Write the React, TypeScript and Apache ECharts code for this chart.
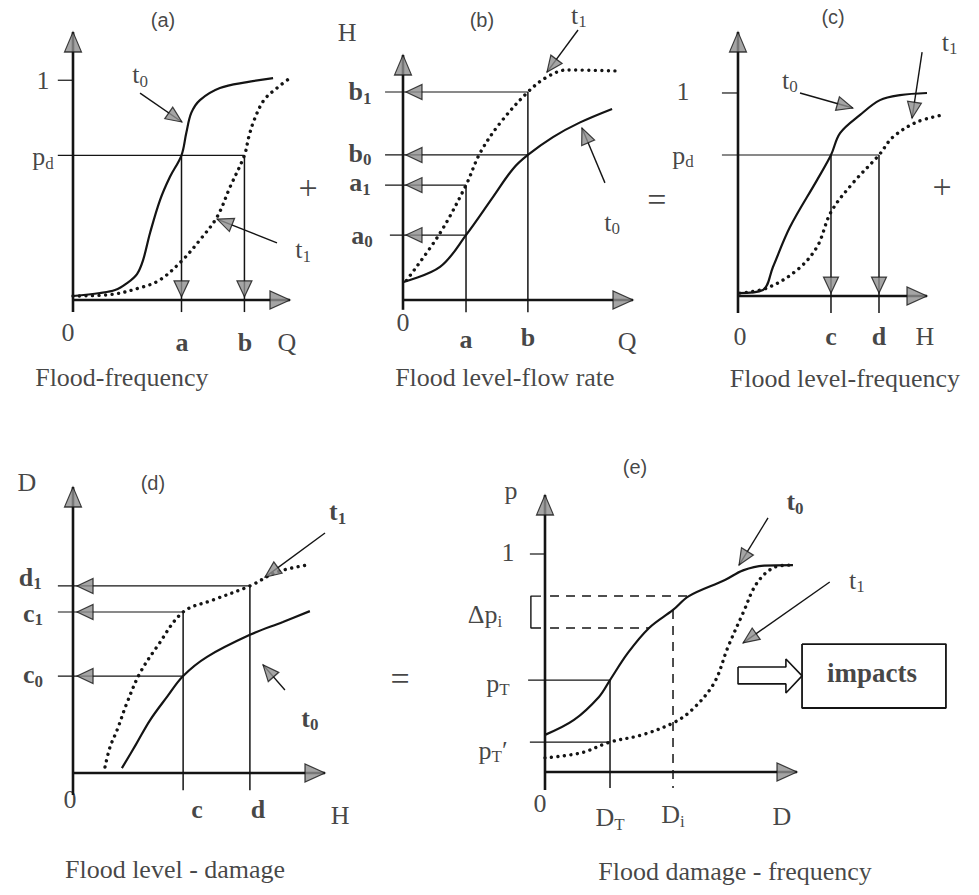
import React, { useEffect, useRef } from 'react';
import * as echarts from 'echarts';

// ---------------- DATA (panel units: origin = 0, axis arrow tip = 100) ----------------
// (a) Flood-frequency : p against Q
const aT0 = [[0,1.5],[12.4,2.6],[19.4,3.7],[24.9,6.3],[29.5,9.7],[32.3,14.9],[35.5,25],[40.1,37.3],[44.7,46],[50,54],[52.2,62.3],[54.5,69.8],[58.5,74.6],[67.7,79.1],[80.2,81.3],[92.2,82.8]];
const aT1 = [[0,1.5],[17,2],[32.3,4.9],[40.1,7.5],[50,14.5],[58.5,22.4],[66.4,31],[72.4,42.2],[79,54],[81,60.8],[83.5,67.2],[88,74.6],[94,79.1],[100,82.8]];
const aOne = 82, aPd = 54, aQa = 50, aQb = 79;

// (b) Flood level-flow rate : H against Q
const bT0 = [[0,7.3],[16.1,13.5],[27.4,26.5],[39.1,42],[47.8,53.5],[54.3,59.2],[65.2,66.5],[77,72.5],[90.9,78]];
const bT1 = [[1.5,8],[16.1,27.3],[27.4,46.9],[33.5,60],[42.2,72.2],[54.3,84.9],[62.6,91],[71.3,93.9],[93,93.5]];
const bB1 = 84.9, bB0 = 59.2, bA1 = 46.9, bA0 = 26.5, bQa = 27.4, bQb = 54.3;

// (c) Flood level-frequency : p against H
const cT0 = [[0,1.1],[13.2,2.3],[18.5,11],[27.5,26.1],[41.8,43.9],[49.2,53.4],[54,61.7],[64.6,68.6],[75.1,74.2],[85.7,76.1],[100,76.9]];
const cT1 = [[1,1.1],[15.3,3],[31.2,9.8],[41.8,18.6],[49.2,31.8],[60.8,42.8],[74.6,53.4],[82,60.2],[94.7,65.9],[108.5,68.6]];
const cOne = 76.9, cPd = 53.4, cHc = 49.2, cHd = 74.6;

// (d) Flood level - damage : D against H
const dT0 = [[19.4,1.7],[25,10],[30.6,18.5],[37.3,26.6],[43.7,33.9],[53.2,40.6],[70.2,48.3],[83.3,52.8],[94,56.6]];
const dT1 = [[12.7,2.1],[14.7,9.1],[17.5,15],[21.4,24.5],[26.6,35],[33.3,44.1],[43.7,56.3],[55.6,60.5],[70.2,65.4],[81,70.3],[92.9,72.7]];
const dD1 = 65.4, dC1 = 56.3, dC0 = 33.9, dHc = 43.7, dHd = 70.2;

// (e) Flood damage - frequency : p against D
const eT0 = [[0,13.4],[11.5,18.8],[21.4,27.1],[25.8,33.2],[32.9,43],[41.3,52],[50.8,58.5],[57.1,63.5],[71.4,69.3],[78.6,72.8],[86.9,74.5],[98.4,74.7]];
const eT1 = [[0,5.1],[14.3,6.9],[25.8,10.8],[38.5,13.4],[50.8,17.7],[58.3,22.4],[67.1,32.1],[72.6,45.1],[78.6,57.4],[84.1,68.2],[91.3,74],[97.6,74.7]];
const eOne = 78.7, eDpTop = 63.5, eDpBot = 52, ePT = 33.2, ePTp = 10.8, eDT = 25.8, eDi = 50.8;

// pointer arrows (start -> tip) for the t0 / t1 call-outs
const aPointers = [[[30.9,77.2],[50.2,66.4]], [[94,21.3],[66.4,30.2]]];
const bPointers = [[[76.1,110.2],[62.6,93]], [[87.8,47.8],[77.8,70.2]]];
const cPointers = [[[32.8,76.9],[60.8,71.2]], [[97.4,92.4],[92.1,67.4]]];
const dPointers = [[[100,83.9],[76.2,68.5]], [[84.1,29],[75.4,37.8]]];
const ePointers = [[[88.5,91.7],[77,74.7]], [[113,68.6],[78.6,46.6]]];

// ---------------- LAYOUT ----------------
type P = { ox: number; oy: number; tx: number; ty: number };
const LAYOUT: P[] = [
  { ox: 73, oy: 300, tx: 290, ty: 32 },
  { ox: 403, oy: 300, tx: 633, ty: 55 },
  { ox: 738, oy: 296, tx: 927, ty: 32 },
  { ox: 73, oy: 773, tx: 325, ty: 487 },
  { ox: 545, oy: 772, tx: 797, ty: 495 },
];
const A = 0, B = 1, C = 2, D = 3, E = 4;
const XR = [-60, 160];
const YR = [-50, 130];
const INK = '#141414';
const SERIF = '"Liberation Serif", "Times New Roman", serif';
const SANS = '"Liberation Sans", Arial, sans-serif';

const sc = (p: P) => ({ sx: (p.tx - p.ox) / 100, sy: (p.oy - p.ty) / 100 });

const m = (t: string) => `{m|${t}}`;
const ms = (t: string, s: string) => `{m|${t}}{s|${s}}`;
const mb = (t: string) => `{mb|${t}}`;
const mbs = (t: string, s: string) => `{mb|${t}}{sb|${s}}`;
const tag = (t: string) => `{tag|${t}}`;
const ttl = (t: string) => `{tt|${t}}`;
const big = (t: string) => `{big|${t}}`;

// label anchors in panel units
const LABELS: [number, number, number, string][] = [
  [A, 41.5, 104.5, tag('(a)')],
  [A, -13.8, 82, m('1')],
  [A, -13.8, 53.4, ms('p', 'd')],
  [A, -2.3, -12.3, m('0')],
  [A, 50.2, -15.7, mb('a')],
  [A, 79.3, -15.7, mb('b')],
  [A, 98.6, -16, m('Q')],
  [A, 30.9, 84, ms('t', '0')],
  [A, 106, 18.7, ms('t', '1')],
  [A, 108.3, 41.8, big('+')],
  [A, 22.5, -29.1, ttl('Flood-frequency')],

  [B, -24.3, 109, m('H')],
  [B, 34.3, 114.3, tag('(b)')],
  [B, -18.7, 84.9, mbs('b', '1')],
  [B, -18.7, 60, mbs('b', '0')],
  [B, -18.7, 47.8, mbs('a', '1')],
  [B, -17.8, 26.5, mbs('a', '0')],
  [B, 0, -9, m('0')],
  [B, 27.4, -16.3, mb('a')],
  [B, 54.3, -15.5, mb('b')],
  [B, 97.4, -17.1, m('Q')],
  [B, 76.5, 116.3, ms('t', '1')],
  [B, 90.9, 31.8, ms('t', '0')],
  [B, 44.3, -31.8, ttl('Flood level-flow rate')],

  [C, 50.3, 105.7, tag('(c)')],
  [C, -29.1, 77.3, m('1')],
  [C, -29.1, 53.4, ms('p', 'd')],
  [C, -42.9, 36.4, big('=')],
  [C, 108, 41.3, big('+')],
  [C, 1, -15.5, m('0')],
  [C, 49.2, -15.5, mb('c')],
  [C, 74.6, -15.5, mb('d')],
  [C, 98.9, -15.5, m('H')],
  [C, 27.5, 81.8, ms('t', '0')],
  [C, 112, 96.2, ms('t', '1')],
  [C, 56.6, -31.1, ttl('Flood level-frequency')],

  [D, -18.3, 101.4, m('D')],
  [D, 31.7, 101.4, tag('(d)')],
  [D, -17, 68.5, mbs('d', '1')],
  [D, -15.9, 55.9, mbs('c', '1')],
  [D, -15.9, 34.3, mbs('c', '0')],
  [D, -1.2, -9.4, m('0')],
  [D, 49.2, -12.9, mb('c')],
  [D, 73.4, -12.9, mb('d')],
  [D, 106, -14.7, m('H')],
  [D, 105, 91.3, mbs('t', '1')],
  [D, 94, 19.2, mbs('t', '0')],
  [D, 129.8, 33.2, big('=')],
  [D, 40.5, -33.9, ttl('Flood level - damage')],

  [E, -13.5, 101.8, m('p')],
  [E, 35.7, 110, tag('(e)')],
  [E, -14.7, 79.4, m('1')],
  [E, -23.8, 56.7, ms('Δp', 'i')],
  [E, -18.7, 32.1, ms('p', 'T')],
  [E, -20.6, 7.9, `{m|p}{s|T}{m|′}`],
  [E, -2, -11.2, m('0')],
  [E, 25.8, -16.6, ms('D', 'T')],
  [E, 50.8, -15.5, ms('D', 'i')],
  [E, 94, -16.2, m('D')],
  [E, 99.2, 97.5, mbs('t', '0')],
  [E, 123.8, 69.3, ms('t', '1')],
  [E, 129.8, 35.7, `{imp|impacts}`],
  [E, 75.4, -36.1, ttl('Flood damage - frequency')],
];

const RICH: any = {
  m: { fontFamily: SERIF, fontSize: 26, color: INK, lineHeight: 30 },
  s: { fontFamily: SERIF, fontSize: 17, color: INK, lineHeight: 14, verticalAlign: 'bottom' },
  mb: { fontFamily: SERIF, fontSize: 26, color: INK, lineHeight: 30, fontWeight: 'bold' },
  sb: { fontFamily: SERIF, fontSize: 17, color: INK, lineHeight: 14, verticalAlign: 'bottom', fontWeight: 'bold' },
  tag: { fontFamily: SANS, fontSize: 20, color: INK, lineHeight: 24 },
  tt: { fontFamily: SERIF, fontSize: 26, color: INK, lineHeight: 30 },
  big: { fontFamily: SERIF, fontSize: 34, color: INK, lineHeight: 36 },
  imp: { fontFamily: SERIF, fontSize: 27, color: INK, lineHeight: 30, fontWeight: 'bold' },
};

function buildOption() {
  const grid: any[] = [], xAxis: any[] = [], yAxis: any[] = [], series: any[] = [];
  LAYOUT.forEach((p, i) => {
    const { sx, sy } = sc(p);
    grid.push({ left: p.ox + XR[0] * sx, top: p.oy - YR[1] * sy, width: (XR[1] - XR[0]) * sx, height: (YR[1] - YR[0]) * sy,
      outerBoundsMode: 'none', containLabel: false });
    xAxis.push({ type: 'value', gridIndex: i, min: XR[0], max: XR[1], show: false });
    yAxis.push({ type: 'value', gridIndex: i, min: YR[0], max: YR[1], show: false });
  });

  const seg = (gi: number, pts: number[][], w = 1.4, type: any = 'solid') =>
    series.push({ type: 'line', xAxisIndex: gi, yAxisIndex: gi, data: pts, symbol: 'none', clip: false, silent: true,
      lineStyle: { color: INK, width: w, type }, z: 2 });
  const curve = (gi: number, pts: number[][], dotted: boolean) =>
    series.push({ type: 'line', xAxisIndex: gi, yAxisIndex: gi, data: pts, symbol: 'none', clip: false, silent: true, smooth: 0.35,
      lineStyle: dotted ? { color: INK, width: 3.4, type: [0.01, 6.5], cap: 'round' } : { color: INK, width: 2.2 }, z: 3 });

  const heads: any[][] = [[], [], [], [], []];
  const head = (gi: number, tip: number[], dir: number[], len: number, wid: number) => {
    const { sx, sy } = sc(LAYOUT[gi]);
    const dx = dir[0] * sx, dy = dir[1] * sy;
    const n = Math.hypot(dx, dy);
    const ux = dx / n, uy = dy / n;
    const cx = tip[0] - (ux * len) / 2 / sx, cy = tip[1] - (uy * len) / 2 / sy;
    const ang = (Math.atan2(uy, ux) * 180) / Math.PI;
    heads[gi].push({ value: [cx, cy], symbolRotate: ang - 90, symbolSize: [wid, len] });
  };
  const axes = (gi: number, yBottom: number) => {
    seg(gi, [[0, yBottom], [0, 100]], 2.6);
    seg(gi, [[0, 0], [100, 0]], 2.6);
    head(gi, [0, 100], [0, 1], 20, 17);
    head(gi, [100, 0], [1, 0], 20, 18);
  };
  const pointer = (gi: number, pr: number[][]) => {
    seg(gi, pr, 1.4);
    head(gi, pr[1], [pr[1][0] - pr[0][0], pr[1][1] - pr[0][1]], 16, 14);
  };

  // (a)
  axes(A, -4.5);
  seg(A, [[-7, aOne], [0, aOne]], 1.2);
  seg(A, [[-7, aPd], [aQb, aPd]], 1.2);
  seg(A, [[aQa, aPd], [aQa, -4.5]], 1.5);
  seg(A, [[aQb, aPd], [aQb, -4.5]], 1.5);
  head(A, [aQa, 1.2], [0, -1], 16, 15);
  head(A, [aQb, 1.2], [0, -1], 16, 15);
  curve(A, aT0, false); curve(A, aT1, true);
  aPointers.forEach((pr) => pointer(A, pr));

  // (b)
  axes(B, -4);
  [[bB1, bQb, -7.8], [bB0, bQb, -7.8], [bA1, bQa, -7.8], [bA0, bQa, -5.7]].forEach(([lv, xe, xs]) => {
    seg(B, [[xs, lv], [xe, lv]], 1.2);
    head(B, [1.3, lv], [-1, 0], 16, 15);
  });
  seg(B, [[bQa, -5], [bQa, bA1]], 1.5);
  seg(B, [[bQb, -5], [bQb, bB1]], 1.5);
  curve(B, bT0, false); curve(B, bT1, true);
  bPointers.forEach((pr) => pointer(B, pr));

  // (c)
  axes(C, -6.4);
  seg(C, [[-8.5, cOne], [0, cOne]], 1.2);
  seg(C, [[-8.5, cPd], [cHd, cPd]], 1.2);
  seg(C, [[cHc, cPd], [cHc, -6.4]], 1.5);
  seg(C, [[cHd, cPd], [cHd, -6.4]], 1.5);
  head(C, [cHc, 1.1], [0, -1], 16, 15);
  head(C, [cHd, 1.1], [0, -1], 16, 15);
  curve(C, cT0, false); curve(C, cT1, true);
  cPointers.forEach((pr) => pointer(C, pr));

  // (d)
  axes(D, -7.7);
  [[dD1, dHd], [dC1, dHc], [dC0, dHc]].forEach(([lv, xe]) => {
    seg(D, [[-6, lv], [xe, lv]], 1.2);
    head(D, [1.6, lv], [-1, 0], 16, 15);
  });
  seg(D, [[dHc, -6], [dHc, dC1]], 1.5);
  seg(D, [[dHd, -6], [dHd, dD1]], 1.5);
  curve(D, dT0, false); curve(D, dT1, true);
  dPointers.forEach((pr) => pointer(D, pr));

  // (e)
  axes(E, -6.5);
  seg(E, [[-6, eOne], [0, eOne]], 1.2);
  seg(E, [[-1.6, eDpTop], [-5.6, eDpTop], [-5.6, eDpBot], [-1.6, eDpBot]], 1.4);
  seg(E, [[-6.7, ePT], [eDT, ePT]], 1.3);
  seg(E, [[-6, ePTp], [eDT, ePTp]], 1.3);
  seg(E, [[eDT, ePT], [eDT, -5.8]], 1.5);
  seg(E, [[2, eDpTop], [57.1, eDpTop]], 1.5, [9, 7]);
  seg(E, [[2, eDpBot], [41.3, eDpBot]], 1.5, [9, 7]);
  seg(E, [[eDi, 58.5], [eDi, -5.8]], 1.5, [9, 7]);
  curve(E, eT0, false); curve(E, eT1, true);
  ePointers.forEach((pr) => pointer(E, pr));
  // impacts box and hollow arrow
  seg(E, [[102, 46.2], [159.1, 46.2], [159.1, 23.1], [102, 23.1], [102, 46.2]], 1.8);
  seg(E, [[76.6, 37.9], [95.6, 37.9], [95.6, 40.8], [102, 34.7], [95.6, 28.5], [95.6, 31.8], [76.6, 31.8], [76.6, 37.9]], 1.6);

  heads.forEach((h, gi) => {
    series.push({ type: 'scatter', xAxisIndex: gi, yAxisIndex: gi, symbol: 'triangle', data: h, clip: false, silent: true,
      itemStyle: { color: '#8e8e8e', borderColor: INK, borderWidth: 1.2 }, z: 6 });
  });

  for (let gi = 0; gi < 5; gi++) {
    const items = LABELS.filter((l) => l[0] === gi).map((l) => ({ value: [l[1], l[2]], label: { formatter: l[3] } }));
    series.push({ type: 'scatter', xAxisIndex: gi, yAxisIndex: gi, symbolSize: 1, itemStyle: { color: 'rgba(0,0,0,0)' }, data: items, clip: false, silent: true, z: 8,
      label: { show: true, position: 'inside', align: 'center', verticalAlign: 'middle', rich: RICH, color: INK },
      labelLayout: { hideOverlap: false } });
  }

  return { animation: false, backgroundColor: '#ffffff', grid, xAxis, yAxis, series };
}

export default function App() {
  const ref = useRef<HTMLDivElement>(null);
  useEffect(() => {
    document.body.style.margin = '0';
    const chart = echarts.init(ref.current!, null, { renderer: 'svg' });
    chart.setOption(buildOption() as any);
    return () => chart.dispose();
  }, []);
  return <div ref={ref} style={{ width: 979, height: 895, background: '#fff' }} />;
}
